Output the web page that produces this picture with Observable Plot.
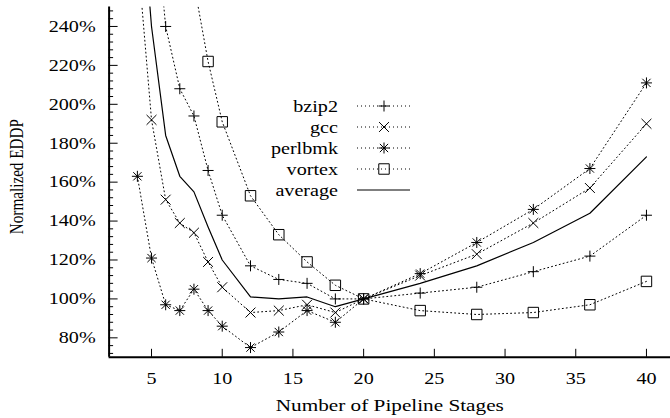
<!DOCTYPE html>
<html><head><meta charset="utf-8">
<script src="https://cdn.jsdelivr.net/npm/d3@7"></script>
<script src="https://cdn.jsdelivr.net/npm/@observablehq/plot@0.6"></script>
<style>body{margin:0;background:#fff} svg{display:block}</style>
</head><body><div id="chart"></div>
<script>
const stages  = [4,5,6,7,8,9,10,12,14,16,18,20,24,28,32,36,40];
const bzip2   = [null,318,240,208,194,166,143,117,110,108,100,100,103,106,114,122,143];
const gcc     = [278,192,151,139,134,119,106,93,94,97,93,100,112,123,139,157,190];
const perlbmk = [163,121,97,94,105,94,86,75,83,94,88,100,113,129,146,167,211];
const vortex  = [null,null,null,null,262,222,191,153,133,119,107,100,94,92,93,97,109];
const average = [330,240,184,163,155,137,120,101,100,101,96,100,108,117,129,144,173];
const seriesNames = ["bzip2","gcc","perlbmk","vortex","average"];
const xTicks = [5,10,15,20,25,30,35,40];
const yTicks = [80,100,120,140,160,180,200,220,240];
const yMinorTicks = d3.range(72, 250, 4).filter(v => v % 20 !== 0);
const xLabel = "Number of Pipeline Stages";
const yLabel = "Normalized EDDP";

const FONT = "'Liberation Serif','Times New Roman',serif";
const FS = 16.5, STRETCH = 1.22;

const rad = s => Math.sqrt(s / Math.PI);
const symPlus = {draw(c, s){const r = rad(s); c.moveTo(-r,0); c.lineTo(r,0); c.moveTo(0,-r); c.lineTo(0,r);}};
const symTimes = {draw(c, s){const r = rad(s)*0.9; c.moveTo(-r,-r); c.lineTo(r,r); c.moveTo(-r,r); c.lineTo(r,-r);}};
const symStar = {draw(c, s){symPlus.draw(c, s); const r = rad(s)*0.75; c.moveTo(-r,-r); c.lineTo(r,r); c.moveTo(-r,r); c.lineTo(r,-r);}};
const symBox = {draw(c, s){const r = rad(s)*0.95; c.rect(-r,-r,2*r,2*r);}};
const symbols = {bzip2: symPlus, gcc: symTimes, perlbmk: symStar, vortex: symBox};

const seriesValues = {bzip2, gcc, perlbmk, vortex, average};
const rows = name => stages.map((x, i) => ({x, y: seriesValues[name][i]})).filter(d => d.y != null);

const DASH = "1,3";
const marks = [];
for (const name of seriesNames) {
  const solid = name === "average";
  marks.push(Plot.line(rows(name), {x: "x", y: "y", stroke: "black", strokeWidth: solid ? 1.2 : 1,
    strokeDasharray: solid ? null : DASH, clip: true}));
  if (!solid) marks.push(Plot.dot(rows(name), {x: "x", y: "y", r: 5.5, symbol: symbols[name],
    stroke: "black", fill: "none", strokeWidth: 1, clip: true}));
}

const plot = Plot.plot({
  width: 670, height: 418,
  marginLeft: 108.6, marginRight: 0, marginTop: 6.5, marginBottom: 61.2,
  style: {fontFamily: FONT, fontSize: FS + "px", color: "black", background: "white"},
  x: {domain: [2, 41.7], label: null},
  y: {domain: [70, 250], label: null},
  marks: [
    Plot.axisY(yMinorTicks, {tickSize: -4.5, tickFormat: () => "", stroke: "black"}),
    Plot.axisY(yTicks, {tickSize: -9, tickFormat: () => "", stroke: "black"}),
    Plot.text(yTicks, {y: d => d, text: d => d + "%", frameAnchor: "left", dx: -12.6, textAnchor: "end", fill: "black", className: "ylab"}),
    Plot.axisX(xTicks, {tickSize: -8, tickPadding: 23, tickFormat: d => String(d), stroke: "black", fill: "black", className: "stretch"}),
    Plot.ruleX([2], {stroke: "black", strokeWidth: 2}),
    Plot.ruleY([70], {stroke: "black", strokeWidth: 2}),
    ...marks,
    Plot.text([xLabel], {text: d => d, frameAnchor: "bottom", dy: 48, fontSize: 17.4, lineAnchor: "middle", fill: "black", className: "stretch"}),
    Plot.text([yLabel], {text: d => d, frameAnchor: "left", rotate: -90, dx: -92.6, dy: -5.5, fontSize: 15.2, lineAnchor: "middle", textAnchor: "middle", fill: "black", className: "yttl"})
  ]
});
document.getElementById("chart").appendChild(plot);

// legend (layout only)
const svg = d3.select(plot);
const lg = svg.append("g").attr("class", "stretch").attr("font-family", FONT).attr("font-size", FS);
const rowY = [106, 127, 148, 169, 190];
seriesNames.forEach((name, i) => {
  const y = rowY[i];
  lg.append("text").attr("x", 338).attr("y", y).attr("dy", "0.35em").attr("text-anchor", "end").text(name);
  lg.append("line").attr("x1", 357).attr("x2", 410).attr("y1", y).attr("y2", y)
    .attr("stroke", "black").attr("stroke-width", name === "average" ? 1.2 : 1)
    .attr("stroke-dasharray", name === "average" ? null : DASH);
  if (symbols[name]) lg.append("path").attr("transform", `translate(384,${y})`)
    .attr("d", d3.symbol(symbols[name], Math.PI * 5.5 * 5.5)()).attr("fill", "none").attr("stroke", "black");
});

// widen glyphs like the reference (horizontally stretched figure)
const stretch = t => {
  const L = t.getComputedTextLength();
  t.setAttribute("textLength", L * STRETCH);
  t.setAttribute("lengthAdjust", "spacingAndGlyphs");
};
plot.querySelectorAll(".stretch text").forEach(t => { if (t.textContent) stretch(t); });
const r0 = plot.getBoundingClientRect();
plot.querySelectorAll(".ylab text").forEach(t => {
  stretch(t);
  const right = t.getBoundingClientRect().right - r0.left;
  t.setAttribute("dx", 96 - right);
});
// rotated y title: widen across its glyphs (screen-horizontal)
const ytg = plot.querySelector(".yttl");
if (ytg) {
  const b = ytg.getBoundingClientRect();
  const cx = (b.left + b.right) / 2 - r0.left;
  const wrap = document.createElementNS("http://www.w3.org/2000/svg", "g");
  wrap.setAttribute("transform", `translate(${cx},0) scale(1.3,1) translate(${-cx},0)`);
  ytg.parentNode.insertBefore(wrap, ytg);
  wrap.appendChild(ytg);
}
</script></body></html>
